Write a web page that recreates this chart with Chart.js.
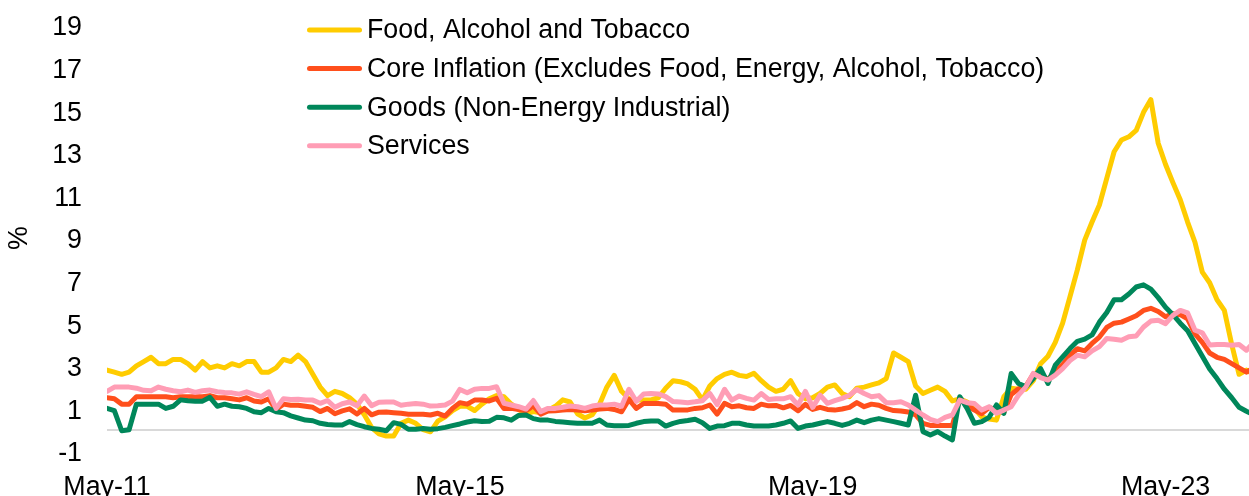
<!DOCTYPE html>
<html>
<head>
<meta charset="utf-8">
<title>HICP components, annual rate of change</title>
<script src="https://cdn.jsdelivr.net/npm/chart.js@4.4.1/dist/chart.umd.min.js"></script>
<style>
  html, body { margin: 0; padding: 0; background: #ffffff; }
  #wrap { width: 1249px; height: 496px; position: relative; }
</style>
</head>
<body>
<div id="wrap"><canvas id="chart"></canvas></div>
<script>
// Monthly annual rates (%), May-11 to May-24; index 0 = May-11.
const seriesLabels = [
  'Food, Alcohol and Tobacco',
  'Core Inflation (Excludes Food, Energy, Alcohol, Tobacco)',
  'Goods (Non-Energy Industrial)',
  'Services'
];

const foodAlcoholTobacco = [
  2.8,2.7,2.6,2.7,3.0,3.2,3.4,3.1,3.1,3.3,
  3.3,3.1,2.8,3.2,2.9,3.0,2.9,3.1,3.0,3.2,
  3.2,2.7,2.7,2.9,3.3,3.2,3.5,3.2,2.6,2.0,
  1.6,1.8,1.7,1.5,1.2,0.7,0.1,-0.2,-0.3,-0.3,
  0.3,0.45,0.3,0.0,-0.1,0.4,0.6,0.9,1.1,1.1,
  0.9,1.2,1.45,1.6,1.55,1.2,0.95,0.75,0.85,0.8,
  0.9,1.1,1.4,1.3,0.75,0.55,0.7,1.2,2.0,2.55,
  1.8,1.45,1.4,1.4,1.4,1.5,1.95,2.3,2.25,2.15,
  1.9,1.4,2.05,2.4,2.6,2.7,2.55,2.5,2.65,2.3,
  2.0,1.8,1.9,2.3,1.7,1.45,1.5,1.7,2.0,2.1,
  1.7,1.55,1.95,2.0,2.1,2.2,2.4,3.6,3.4,3.2,
  2.05,1.7,1.85,2.0,1.8,1.35,1.45,1.3,1.0,0.6,
  0.5,0.45,1.55,1.95,1.9,1.9,2.3,3.1,3.45,4.1,
  5.0,6.25,7.5,8.9,9.75,10.55,11.8,13.05,13.6,13.75,
  14.05,14.9,15.5,13.45,12.45,11.6,10.8,9.75,8.8,7.4,
  6.9,6.1,5.6,4.0,2.6,2.8,2.6
];

const coreInflation = [
  1.5,1.45,1.2,1.2,1.55,1.55,1.55,1.55,1.55,1.5,
  1.55,1.55,1.55,1.55,1.6,1.5,1.5,1.45,1.4,1.5,
  1.35,1.3,1.45,0.95,1.2,1.15,1.15,1.1,1.05,0.85,
  1.0,0.75,0.88,0.98,0.74,1.0,0.7,0.82,0.83,0.8,
  0.77,0.73,0.73,0.73,0.69,0.77,0.64,1.0,1.27,1.2,
  1.39,1.39,1.35,1.47,1.0,1.0,0.95,0.89,1.12,0.73,
  0.88,0.89,0.92,0.95,0.92,0.89,0.92,0.97,1.0,0.95,
  0.84,1.42,1.0,1.23,1.23,1.23,1.2,0.92,0.92,0.93,
  1.0,1.03,1.16,0.73,1.24,1.08,1.12,1.03,1.0,1.2,
  1.12,1.14,1.03,1.14,0.89,1.19,0.95,1.05,0.95,0.92,
  0.97,1.05,1.27,1.08,1.2,1.15,1.0,0.9,0.88,0.83,
  0.7,0.3,0.2,0.2,0.2,0.2,1.45,1.15,0.92,0.75,
  1.05,0.92,0.8,1.65,1.92,2.05,2.6,2.6,2.35,2.75,
  3.05,3.5,3.8,3.7,4.05,4.35,4.8,5.0,5.05,5.2,
  5.35,5.6,5.7,5.55,5.3,5.45,5.4,5.2,4.5,4.1,
  3.6,3.4,3.3,3.1,2.9,2.7,2.9
];

const goodsNonEnergy = [
  1.0,0.9,-0.05,0.0,1.2,1.2,1.2,1.2,1.0,1.1,
  1.4,1.36,1.34,1.34,1.52,1.1,1.2,1.1,1.08,1.0,
  0.84,0.8,1.0,0.84,0.8,0.65,0.55,0.45,0.42,0.3,
  0.24,0.22,0.22,0.38,0.24,0.14,0.06,0.02,-0.05,0.33,
  0.25,0.02,0.02,0.06,0.02,0.05,0.11,0.19,0.27,0.36,
  0.42,0.39,0.4,0.58,0.56,0.45,0.67,0.69,0.52,0.45,
  0.45,0.39,0.36,0.33,0.3,0.3,0.3,0.45,0.22,0.19,
  0.19,0.2,0.3,0.38,0.41,0.41,0.17,0.3,0.39,0.43,
  0.49,0.33,0.06,0.17,0.19,0.3,0.3,0.22,0.17,0.17,
  0.17,0.22,0.3,0.41,0.06,0.17,0.22,0.3,0.38,0.3,
  0.2,0.3,0.45,0.33,0.45,0.52,0.45,0.38,0.3,0.22,
  1.62,-0.09,-0.25,-0.09,-0.3,-0.48,1.55,1.0,0.3,0.38,
  0.58,1.16,0.77,2.64,2.17,2.01,2.4,2.87,2.17,3.03,
  3.42,3.81,4.15,4.25,4.45,5.05,5.5,6.1,6.1,6.37,
  6.7,6.8,6.6,6.2,5.75,5.4,5.0,4.65,4.05,3.45,
  2.85,2.4,1.9,1.5,1.05,0.87,0.7
];

const services = [
  1.8,2.0,2.0,2.0,1.95,1.85,1.83,2.0,1.9,1.83,
  1.78,1.86,1.75,1.83,1.86,1.78,1.75,1.73,1.67,1.78,
  1.66,1.55,1.78,1.0,1.45,1.42,1.43,1.39,1.39,1.24,
  1.37,1.05,1.22,1.3,1.12,1.58,1.13,1.29,1.3,1.3,
  1.15,1.2,1.23,1.2,1.11,1.12,1.16,1.34,1.89,1.73,
  1.9,1.94,1.94,2.02,1.24,1.16,1.08,0.97,1.37,0.85,
  1.0,1.0,1.05,1.11,1.08,1.0,1.11,1.16,1.16,1.2,
  1.1,1.9,1.33,1.68,1.7,1.68,1.55,1.32,1.3,1.27,
  1.31,1.36,1.7,1.18,1.9,1.39,1.58,1.47,1.39,1.7,
  1.42,1.45,1.45,1.55,1.15,1.8,1.05,1.62,1.24,1.36,
  1.47,1.62,1.89,1.7,1.55,1.6,1.27,1.27,1.31,1.16,
  0.92,0.69,0.48,0.38,0.58,0.69,1.39,1.27,1.23,0.92,
  1.08,0.77,0.92,1.08,1.62,2.01,2.64,2.45,2.33,2.56,
  2.87,3.25,3.5,3.42,3.7,3.9,4.28,4.25,4.2,4.36,
  4.4,4.82,5.1,5.14,4.98,5.37,5.6,5.48,4.67,4.55,
  3.98,4.0,4.0,3.97,4.0,3.73,4.1
];

// Axis labels
const xTickMonths = [0, 48, 96, 144];
const xTickLabels = ['May-11', 'May-15', 'May-19', 'May-23'];
const yTickLabels = [-1, 1, 3, 5, 7, 9, 11, 13, 15, 17, 19];

// Styling
const seriesColors = ['#FFCC00', '#FF4F1C', '#00875A', '#FF9DB5'];
const FONT_FAMILY = '"Liberation Sans", Arial, Helvetica, sans-serif';
const FONT_SIZE = 26.8;
const X_VISIBLE_MAX = 155.35;   // plot is cut just after Apr-24

Chart.defaults.font.family = FONT_FAMILY;
Chart.defaults.font.size = FONT_SIZE;
Chart.defaults.color = '#000000';

const toPoints = arr => arr.map((v, i) => ({ x: i, y: v }));
const seriesData = [foodAlcoholTobacco, coreInflation, goodsNonEnergy, services];

// Legend drawn as a vertical list over the upper part of the plot
const LEGEND = { x: 307, top: 31, rowGap: 38.6, sample: 55, gap: 5, lineWidth: 5 };
const insetLegend = {
  id: 'insetLegend',
  afterDraw(chart) {
    const ctx = chart.ctx;
    ctx.save();
    ctx.font = FONT_SIZE + 'px ' + FONT_FAMILY;
    ctx.textBaseline = 'middle';
    ctx.textAlign = 'left';
    chart.data.datasets.forEach((ds, i) => {
      const y = LEGEND.top + i * LEGEND.rowGap;
      ctx.strokeStyle = ds.borderColor;
      ctx.lineWidth = LEGEND.lineWidth;
      ctx.lineCap = 'round';
      ctx.beginPath();
      ctx.moveTo(LEGEND.x + LEGEND.lineWidth / 2, y - 1);
      ctx.lineTo(LEGEND.x + LEGEND.sample - LEGEND.lineWidth / 2, y - 1);
      ctx.stroke();
      ctx.fillStyle = '#000000';
      ctx.fillText(ds.label, LEGEND.x + LEGEND.sample + LEGEND.gap, y);
    });
    ctx.restore();
  }
};

new Chart(document.getElementById('chart'), {
  type: 'line',
  data: {
    datasets: seriesData.map((arr, i) => ({
      label: seriesLabels[i],
      data: toPoints(arr),
      borderColor: seriesColors[i],
      backgroundColor: seriesColors[i],
      borderWidth: 5,
      pointRadius: 0,
      tension: 0,
      fill: false,
      order: seriesData.length - i   // later series drawn on top
    }))
  },
  options: {
    responsive: true,
    maintainAspectRatio: false,
    animation: false,
    layout: { padding: { top: 25, right: 0, bottom: 0, left: 0 } },
    elements: { line: { borderJoinStyle: 'round', borderCapStyle: 'round' } },
    plugins: {
      legend: { display: false },
      tooltip: { enabled: false }
    },
    scales: {
      x: {
        type: 'linear',
        min: 0,
        max: X_VISIBLE_MAX,
        grid: { display: false },
        border: { display: false },
        afterBuildTicks: scale => { scale.ticks = xTickMonths.map(v => ({ value: v })); },
        afterFit: scale => { scale.height = 45; },
        ticks: {
          autoSkip: false,
          maxRotation: 0,
          padding: 13,
          callback: v => { const k = xTickMonths.indexOf(v); return k >= 0 ? xTickLabels[k] : ''; }
        }
      },
      y: {
        min: -1,
        max: 19,
        afterFit: scale => {
          scale.width = 107;
          // top/bottom room comes from the layout padding and the x axis
          scale.paddingTop = 0;
          scale.paddingBottom = 0;
        },
        border: { display: false },
        grid: {
          drawTicks: false,
          lineWidth: 2,
          color: c => (c.tick && c.tick.value === 0) ? '#D9D9D9' : 'rgba(0,0,0,0)'
        },
        ticks: {
          stepSize: 1,
          autoSkip: false,
          padding: 25,
          labelOffset: 3,
          callback: v => yTickLabels.includes(v) ? String(v) : ''
        },
        title: { display: true, text: '%', padding: { top: 4, bottom: 0 } }
      }
    }
  },
  plugins: [insetLegend]
});
</script>
</body>
</html>
